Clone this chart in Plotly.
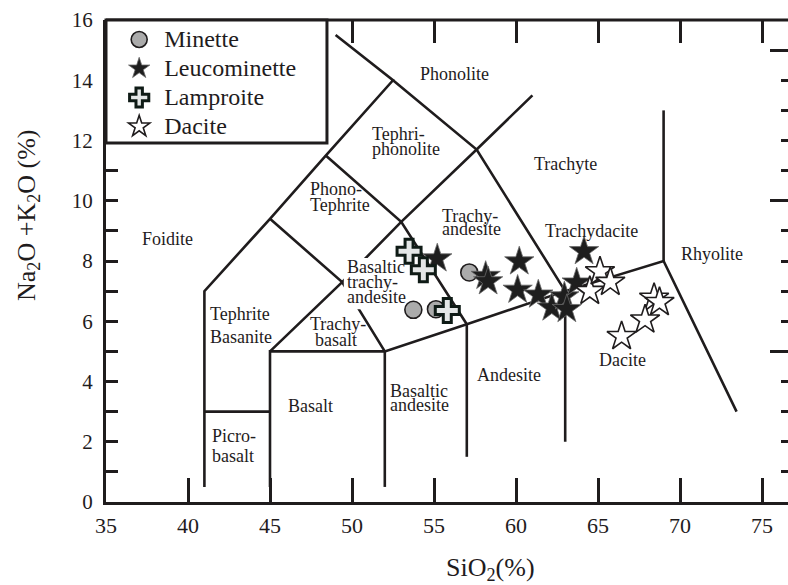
import plotly.graph_objects as go

# --- sample data: SiO2 (wt%) vs Na2O+K2O (wt%) ---
minette_sio2 = [53.74, 55.12, 57.15]
minette_alk = [6.38, 6.40, 7.62]

leuco_sio2 = [55.2, 58.15, 58.3, 60.2, 60.1, 61.36, 62.18, 62.95, 63.1, 63.7, 64.15]
leuco_alk = [8.08, 7.5, 7.32, 7.98, 7.04, 6.88, 6.45, 6.82, 6.4, 7.28, 8.32]

lamp_sio2 = [53.48, 54.35, 55.81]
lamp_alk = [8.32, 7.71, 6.36]

dacite_sio2 = [64.5, 65.12, 65.75, 68.42, 68.75, 67.87, 66.44]
dacite_alk = [7.0, 7.65, 7.3, 6.77, 6.63, 6.05, 5.5]

# --- TAS field boundaries (Le Bas et al. 1986) as polylines ---
tas_lines = [
    [(41, 0.5), (41, 7), (45, 9.4), (48.4, 11.5), (52.5, 14), (49.0, 15.5)],
    [(41, 3), (45, 3)],
    [(45, 0.5), (45, 5), (52, 5), (57, 5.9), (63, 7), (69, 8), (73.45, 3.0)],
    [(52, 0.5), (52, 5)],
    [(57, 1.5), (57, 5.9)],
    [(63, 2.0), (63, 7)],
    [(45, 5), (49.4, 7.3), (53, 9.3), (57.6, 11.7), (61, 13.5)],
    [(45, 9.4), (49.4, 7.3), (52, 5)],
    [(48.4, 11.5), (53, 9.3), (57, 5.9)],
    [(52.5, 14), (57.6, 11.7), (63, 7)],
    [(69, 8), (69, 13)],
]

# field names: (text, x, y, anchor)
field_labels = [
    ("Foidite", 38.72, 8.74, "center"),
    ("Phonolite", 56.22, 14.22, "center"),
    ("Tephri-", 51.10, 12.20, "left"),
    ("phonolite", 51.10, 11.73, "left"),
    ("Trachyte", 63.02, 11.23, "center"),
    ("Trachy-", 55.37, 9.51, "left"),
    ("andesite", 55.37, 9.07, "left"),
    ("Trachydacite", 64.60, 9.00, "center"),
    ("Phono-", 47.32, 10.40, "left"),
    ("Tephrite", 47.32, 9.87, "left"),
    ("Basaltic", 49.57, 7.80, "left"),
    ("trachy-", 49.57, 7.30, "left"),
    ("andesite", 49.57, 6.80, "left"),
    ("Tephrite", 41.22, 6.25, "left"),
    ("Basanite", 41.22, 5.49, "left"),
    ("Trachy-", 47.32, 5.91, "left"),
    ("basalt", 47.62, 5.38, "left"),
    ("Rhyolite", 71.98, 8.22, "center"),
    ("Dacite", 66.52, 4.72, "center"),
    ("Andesite", 59.57, 4.22, "center"),
    ("Basalt", 47.44, 3.20, "center"),
    ("Basaltic", 52.20, 3.70, "left"),
    ("andesite", 52.20, 3.23, "left"),
    ("Picro-", 41.34, 2.20, "left"),
    ("basalt", 41.34, 1.54, "left"),
]

X_RANGE = [35, 76.585]
Y_RANGE = [0, 16]
INK = "#1f1c1d"
FONT = "Liberation Serif"


def legend_name(text):
    return f"<span style='font-size:24px'>{text}</span>"


fig = go.Figure()

shapes = []
for poly in tas_lines:
    path = "M " + " L ".join(f"{x},{y}" for x, y in poly)
    shapes.append(dict(type="path", path=path, xref="x", yref="y",
                       line=dict(color=INK, width=2.6), layer="below"))
# white backing behind the "Basaltic trachy-andesite" field name
shapes.append(dict(type="rect", xref="x", yref="y", x0=49.5, x1=53.4, y0=6.4, y1=8.1,
                   fillcolor="white", line=dict(width=0), layer="below"))
# frame: top edge
shapes.append(dict(type="line", xref="paper", yref="paper", x0=0, x1=1, y0=1, y1=1,
                   line=dict(color=INK, width=3), layer="above"))
# legend box
shapes.append(dict(type="rect", xref="paper", yref="paper", x0=0, x1=0.324, y0=0.7448, y1=1,
                   fillcolor="white", line=dict(color=INK, width=3), layer="above"))

fig.add_trace(go.Scatter(
    x=minette_sio2, y=minette_alk, mode="markers", name=legend_name("Minette"),
    marker=dict(symbol="circle", size=17, color="#ababab", line=dict(color=INK, width=1.6))))
fig.add_trace(go.Scatter(
    x=leuco_sio2, y=leuco_alk, mode="markers", name=legend_name("Leucominette"),
    marker=dict(symbol="star", size=22, color="#1e1e1e", line=dict(color="#6a6a6a", width=0.8))))
fig.add_trace(go.Scatter(
    x=lamp_sio2, y=lamp_alk, mode="markers", name=legend_name("Lamproite"),
    marker=dict(symbol="cross", size=20, color="#e4e7e7", line=dict(color="#0f1b16", width=3))))
fig.add_trace(go.Scatter(
    x=dacite_sio2, y=dacite_alk, mode="markers", name=legend_name("Dacite"),
    marker=dict(symbol="star", size=22, color="white", line=dict(color=INK, width=1.6))))

# secondary axes give the top and right tick marks
fig.add_trace(go.Scatter(x=[None], y=[None], xaxis="x2", yaxis="y2", showlegend=False, hoverinfo="skip"))

annotations = []
for text, x, y, anchor in field_labels:
    annotations.append(dict(text=text, x=x, y=y, xref="x", yref="y", xanchor=anchor,
                            yanchor="middle", showarrow=False,
                            font=dict(family=FONT, size=18, color=INK)))
annotations.append(dict(text="SiO<sub>2</sub>(%)", xref="paper", yref="paper",
                        x=(490 - 106) / 682, y=-(569 - 502) / 482, xanchor="center", yanchor="middle",
                        showarrow=False, font=dict(family=FONT, size=26, color=INK)))
annotations.append(dict(text="Na<sub>2</sub>O +K<sub>2</sub>O (%)", xref="paper", yref="paper",
                        x=-(106 - 28) / 682, y=(502 - 215) / 482, xanchor="center", yanchor="middle",
                        textangle=-90, showarrow=False, font=dict(family=FONT, size=26, color=INK)))

fig.update_layout(
    width=788, height=585,
    margin=dict(l=106, r=0, t=20, b=83, autoexpand=False),
    paper_bgcolor="white", plot_bgcolor="white",
    font=dict(family=FONT, color=INK),
    shapes=shapes, annotations=annotations,
    showlegend=True,
    legend=dict(x=0.012, y=1.0, xanchor="left", yanchor="top",
                bgcolor="rgba(0,0,0,0)", borderwidth=0,
                font=dict(family=FONT, size=20, color=INK),
                itemwidth=40, tracegroupgap=0, itemsizing="trace"),
    xaxis=dict(range=X_RANGE, showgrid=False, zeroline=False,
               showline=True, linecolor=INK, linewidth=3,
               ticks="inside", tick0=35, dtick=5, ticklen=24, tickwidth=3, tickcolor=INK,
               tickfont=dict(family=FONT, size=22, color=INK), ticklabelstandoff=2),
    yaxis=dict(range=Y_RANGE, showgrid=False, zeroline=False,
               showline=True, linecolor=INK, linewidth=3,
               ticks="inside", tick0=0, dtick=2, ticklen=12, tickwidth=3, tickcolor=INK,
               minor=dict(ticks="inside", dtick=1, ticklen=12, tickwidth=3, tickcolor=INK),
               tickfont=dict(family=FONT, size=21, color=INK), ticklabelstandoff=6),
    xaxis2=dict(range=X_RANGE, overlaying="x", side="top", showgrid=False, zeroline=False,
                showline=False, ticks="inside", tick0=35, dtick=5, ticklen=23, tickwidth=3,
                tickcolor=INK, showticklabels=False),
    yaxis2=dict(range=Y_RANGE, overlaying="y", side="right", showgrid=False, zeroline=False,
                showline=False, ticks="inside", tick0=0, dtick=5, ticklen=18, tickwidth=3,
                tickcolor=INK, showticklabels=False,
                minor=dict(ticks="inside", dtick=1, ticklen=7, tickwidth=3, tickcolor=INK)),
)

fig.write_html("out.html")
